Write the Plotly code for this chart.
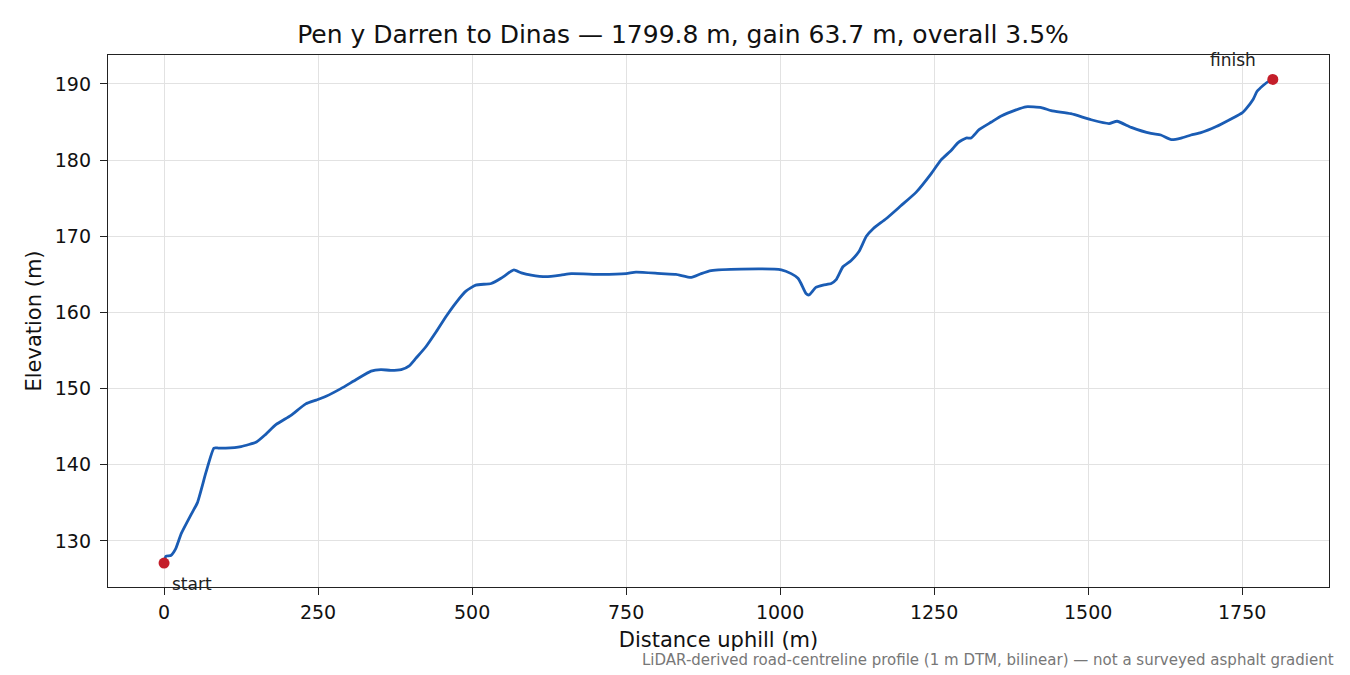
import plotly.graph_objects as go

distance_m = [0, 3, 11, 19, 28, 44, 54, 68, 81, 88, 100, 125, 150, 165, 182, 206, 230, 247, 263,
              287, 312, 336, 352, 368, 385, 398, 409, 425, 442, 458, 474, 490, 506, 531, 547,
              563, 568, 580, 596, 620, 644, 661, 709, 750, 766, 807, 831, 856, 872, 888, 937,
              1002, 1018, 1029, 1034, 1042, 1047, 1058, 1070, 1083, 1091, 1102, 1115, 1128,
              1140, 1151, 1172, 1196, 1221, 1245, 1261, 1278, 1289, 1302, 1310, 1323, 1343,
              1359, 1383, 1399, 1424, 1440, 1472, 1505, 1534, 1547, 1570, 1602, 1618, 1635,
              1651, 1667, 1683, 1708, 1732, 1750, 1756, 1768, 1774, 1784, 1794, 1799.8]
elevation_m = [127.1, 128.0, 128.1, 129.0, 131.0, 133.5, 135.0, 139.0, 142.2, 142.2, 142.2,
               142.4, 143.0, 144.0, 145.3, 146.5, 148.0, 148.5, 149.0, 150.0, 151.2, 152.3,
               152.5, 152.4, 152.5, 153.0, 154.0, 155.5, 157.5, 159.5, 161.3, 162.8, 163.6,
               163.8, 164.5, 165.4, 165.6, 165.2, 164.9, 164.7, 164.9, 165.1, 165.0, 165.1,
               165.3, 165.1, 165.0, 164.6, 165.1, 165.5, 165.7, 165.6, 165.1, 164.5, 163.8,
               162.5, 162.3, 163.3, 163.6, 163.8, 164.3, 166.0, 166.8, 168.0, 170.0, 171.0,
               172.3, 174.0, 175.8, 178.2, 180.0, 181.3, 182.3, 182.9, 182.9, 184.0, 185.0,
               185.8, 186.6, 187.0, 186.9, 186.5, 186.1, 185.3, 184.8, 185.1, 184.3, 183.5,
               183.3, 182.7, 182.9, 183.3, 183.6, 184.4, 185.4, 186.2, 186.7, 188.0, 189.0,
               189.8, 190.4, 190.6]

endpoint_labels = ["start", "finish"]
x_ticks = [0, 250, 500, 750, 1000, 1250, 1500, 1750]
y_ticks = [130, 140, 150, 160, 170, 180, 190]

title_text = "Pen y Darren to Dinas — 1799.8 m, gain 63.7 m, overall 3.5%"
footnote = "LiDAR-derived road-centreline profile (1 m DTM, bilinear) — not a surveyed asphalt gradient"

FONT = "DejaVu Sans"

fig = go.Figure()
fig.add_trace(go.Scatter(x=distance_m, y=elevation_m, mode="lines",
                         line=dict(color="#1a5cb4", width=2.8, shape="spline", smoothing=0.5),
                         hoverinfo="skip", showlegend=False))
fig.add_trace(go.Scatter(x=[distance_m[0], distance_m[-1]], y=[elevation_m[0], elevation_m[-1]],
                         mode="markers", marker=dict(color="#c41e2a", size=11),
                         showlegend=False))

fig.add_annotation(x=distance_m[0], y=elevation_m[0], text=endpoint_labels[0], showarrow=False,
                   xanchor="left", yanchor="top", xshift=6, yshift=-9,
                   font=dict(family=FONT, size=17, color="#222"))
fig.add_annotation(x=distance_m[-1], y=elevation_m[-1], text=endpoint_labels[1], showarrow=False,
                   xanchor="right", yanchor="bottom", xshift=-15, yshift=7,
                   font=dict(family=FONT, size=17, color="#222"))

fig.add_annotation(xref="paper", yref="paper", x=1.0057, y=-0.137, text=footnote,
                   showarrow=False, xanchor="right", yanchor="middle",
                   font=dict(family=FONT, size=15, color="#777"))

axis_common = dict(showline=True, linecolor="#222", linewidth=1.3, mirror=True,
                   ticks="outside", ticklen=7, tickwidth=1.3, tickcolor="#222",
                   showgrid=True, gridcolor="#e2e2e2", gridwidth=1, zeroline=False,
                   tickfont=dict(family=FONT, size=19, color="#111"))

fig.update_layout(
    width=1350, height=675,
    paper_bgcolor="white", plot_bgcolor="white",
    margin=dict(l=100, r=29, t=47, b=96),
    title=dict(text=title_text, x=0.5, xanchor="center", y=0.9615, yanchor="middle",
               font=dict(family=FONT, size=25, color="#111")),
    xaxis=dict(range=[-91, 1891], tickvals=x_ticks, ticklabelstandoff=1,
               title=dict(text="Distance uphill (m)", font=dict(family=FONT, size=21, color="#111"),
                          standoff=10),
               **axis_common),
    yaxis=dict(range=[123.96, 193.8], tickvals=y_ticks, ticklabelstandoff=5,
               title=dict(text="Elevation (m)", font=dict(family=FONT, size=21, color="#111"),
                          standoff=7),
               **axis_common),
)

fig.write_html("out.html")
